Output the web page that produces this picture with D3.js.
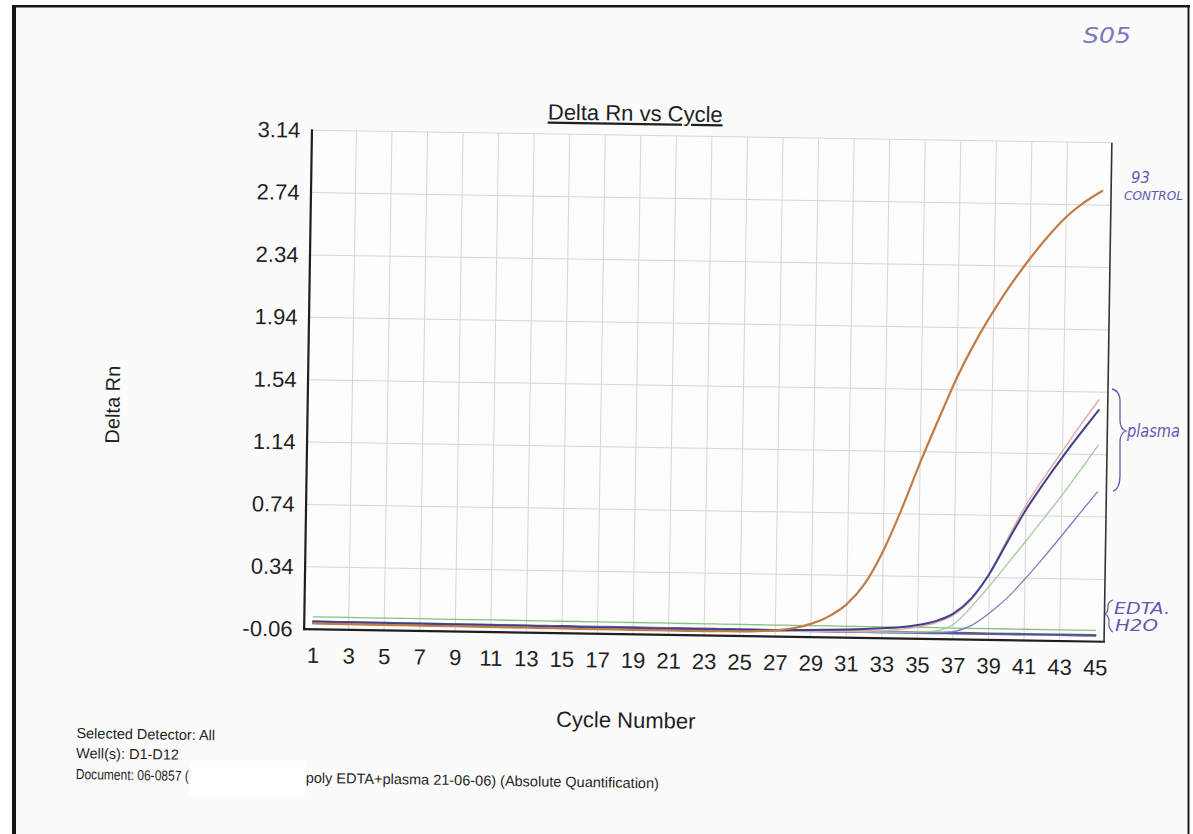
<!DOCTYPE html>
<html>
<head>
<meta charset="utf-8">
<script src="https://cdn.jsdelivr.net/npm/d3@7"></script>
<style>
  html, body { margin: 0; padding: 0; background: #ffffff; }
  svg { display: block; }
</style>
</head>
<body>
<svg id="chart" width="1193" height="834"></svg>
<script>
// ---- data -------------------------------------------------------------
const cycles = d3.range(1, 46);                       // cycle 1..45
const xTickValues = d3.range(1, 46, 2);               // 1,3,...,45
const xGridValues = d3.range(3, 44, 2);               // 3,5,...,43
const yTickValues = [-0.06, 0.34, 0.74, 1.14, 1.54, 1.94, 2.34, 2.74, 3.14];

// 93 control
const control = [
  -0.022,-0.023,-0.023,-0.024,-0.024,-0.025,-0.025,-0.026,-0.026,-0.027,
  -0.027,-0.028,-0.028,-0.029,-0.029,-0.030,-0.030,-0.030,-0.031,-0.031,
  -0.031,-0.032,-0.032,-0.031,-0.030,-0.027,-0.020,-0.005, 0.025, 0.075,
   0.155, 0.290, 0.500, 0.770, 1.070, 1.350, 1.620, 1.850, 2.050, 2.230,
   2.390, 2.535, 2.660, 2.755, 2.830];

// plasma wells
const plasmaPink = [
  -0.014,-0.014,-0.015,-0.015,-0.015,-0.016,-0.016,-0.016,-0.017,-0.017,
  -0.017,-0.018,-0.018,-0.018,-0.019,-0.019,-0.019,-0.020,-0.020,-0.020,
  -0.021,-0.021,-0.021,-0.022,-0.022,-0.022,-0.022,-0.022,-0.021,-0.020,
  -0.018,-0.015,-0.010,-0.002, 0.015, 0.045, 0.095, 0.195, 0.370, 0.595,
   0.810, 0.990, 1.160, 1.330, 1.490];
const plasmaBlue = [
  -0.010,-0.011,-0.011,-0.012,-0.012,-0.013,-0.013,-0.014,-0.014,-0.015,
  -0.015,-0.016,-0.016,-0.017,-0.017,-0.018,-0.018,-0.018,-0.019,-0.019,
  -0.020,-0.020,-0.020,-0.020,-0.020,-0.019,-0.018,-0.016,-0.014,-0.011,
  -0.007,-0.002, 0.004, 0.012, 0.028, 0.055, 0.105, 0.205, 0.365, 0.575,
   0.780, 0.955, 1.120, 1.275, 1.425];
const plasmaGreen = [
  -0.012,-0.012,-0.013,-0.013,-0.014,-0.014,-0.015,-0.015,-0.015,-0.016,
  -0.016,-0.016,-0.017,-0.017,-0.017,-0.018,-0.018,-0.018,-0.019,-0.019,
  -0.019,-0.020,-0.020,-0.020,-0.020,-0.021,-0.021,-0.021,-0.021,-0.021,
  -0.021,-0.020,-0.020,-0.019,-0.016,-0.008, 0.035, 0.150, 0.285, 0.430,
   0.575, 0.725, 0.875, 1.035, 1.200];
const plasmaPurple = [
  -0.016,-0.016,-0.017,-0.017,-0.017,-0.018,-0.018,-0.018,-0.019,-0.019,
  -0.019,-0.020,-0.020,-0.020,-0.021,-0.021,-0.021,-0.022,-0.022,-0.022,
  -0.022,-0.023,-0.023,-0.023,-0.023,-0.023,-0.024,-0.024,-0.024,-0.024,
  -0.024,-0.024,-0.023,-0.023,-0.022,-0.019,-0.010, 0.030, 0.110, 0.210,
   0.335, 0.470, 0.612, 0.758, 0.900];

// no-amplification wells
const edta = [
   0.020, 0.020, 0.020, 0.019, 0.019, 0.019, 0.019, 0.018, 0.018, 0.018,
   0.018, 0.018, 0.017, 0.017, 0.017, 0.017, 0.016, 0.016, 0.016, 0.016,
   0.015, 0.015, 0.015, 0.015, 0.015, 0.014, 0.014, 0.014, 0.014, 0.014,
   0.013, 0.013, 0.013, 0.013, 0.013, 0.013, 0.012, 0.012, 0.012, 0.012,
   0.012, 0.012, 0.012, 0.012, 0.012];
const water = [
  -0.012,-0.012,-0.013,-0.013,-0.013,-0.014,-0.014,-0.014,-0.015,-0.015,
  -0.015,-0.016,-0.016,-0.016,-0.016,-0.017,-0.017,-0.017,-0.017,-0.018,
  -0.018,-0.018,-0.018,-0.018,-0.019,-0.019,-0.019,-0.019,-0.019,-0.019,
  -0.020,-0.020,-0.020,-0.020,-0.020,-0.020,-0.020,-0.020,-0.020,-0.020,
  -0.020,-0.020,-0.020,-0.020,-0.020];

const series = [
  { name: "H2O",     values: water,        color: "#575b8c", width: 2.6 },
  { name: "EDTA",    values: edta,         color: "#86c07f", width: 1.3 },
  { name: "plasma4", values: plasmaPurple, color: "#7f7bc6", width: 1.3 },
  { name: "plasma3", values: plasmaGreen,  color: "#9fcc9a", width: 1.3 },
  { name: "plasma1", values: plasmaPink,   color: "#e7a7a2", width: 1.4 },
  { name: "plasma2", values: plasmaBlue,   color: "#3e3f8e", width: 2.0 },
  { name: "control", values: control,      color: "#c27b45", width: 2.2 }
];

// ---- layout -----------------------------------------------------------
const W = 1193, H = 834;
const plot = { left: 308, right: 1108, top: 136.5, bottom: 635.5 };
const FONT = "'Liberation Sans', Arial, Helvetica, sans-serif";
const INK = "#1f1f1f";

const svg = d3.select("#chart");

// sheet
svg.append("rect").attr("width", W).attr("height", H).attr("fill", "#ffffff");
svg.append("rect").attr("x", 14).attr("y", 6).attr("width", 1174).attr("height", H)
  .attr("fill", "#fcfbfb");
// scanner edges of the sheet
svg.append("rect").attr("x", 12).attr("y", 5).attr("width", 1178).attr("height", 2.5).attr("fill", "#151515");
svg.append("rect").attr("x", 12).attr("y", 5).attr("width", 4).attr("height", H).attr("fill", "#151515");
svg.append("rect").attr("x", 1187.5).attr("y", 5).attr("width", 2).attr("height", H).attr("fill", "#1c1c2a");

// printed page content sits slightly skewed on the sheet
const page = svg.append("g").attr("transform", "rotate(0.9, 708, 386)");

const x = d3.scaleLinear().domain([0.5, 45.5]).range([plot.left, plot.right]);
const y = d3.scaleLinear().domain([-0.06, 3.14]).range([plot.bottom, plot.top]);

// plot background
page.append("rect")
  .attr("x", plot.left).attr("y", plot.top)
  .attr("width", plot.right - plot.left).attr("height", plot.bottom - plot.top)
  .attr("fill", "#fdfdfd");

// grid
const grid = page.append("g").attr("stroke", "#d6d6d6").attr("stroke-width", 1);
grid.selectAll("line.h").data(yTickValues.slice(1)).join("line")
  .attr("x1", plot.left).attr("x2", plot.right)
  .attr("y1", d => y(d)).attr("y2", d => y(d));
grid.selectAll("line.v").data(xGridValues).join("line")
  .attr("x1", d => x(d)).attr("x2", d => x(d))
  .attr("y1", plot.top).attr("y2", plot.bottom);

// curves
const line = d3.line()
  .x((d, i) => x(cycles[i]))
  .y(d => y(d))
  .curve(d3.curveMonotoneX);

page.append("g").selectAll("path").data(series).join("path")
  .attr("d", s => line(s.values))
  .attr("fill", "none")
  .attr("stroke", s => s.color)
  .attr("stroke-width", s => s.width)
  .attr("stroke-linejoin", "round")
  .attr("stroke-linecap", "round");

// frame
page.append("line").attr("x1", plot.left).attr("x2", plot.left)
  .attr("y1", plot.top - 1).attr("y2", plot.bottom + 1)
  .attr("stroke", INK).attr("stroke-width", 2.2);
page.append("line").attr("x1", plot.left - 1).attr("x2", plot.right + 1)
  .attr("y1", plot.bottom).attr("y2", plot.bottom)
  .attr("stroke", INK).attr("stroke-width", 2.2);
page.append("line").attr("x1", plot.right).attr("x2", plot.right)
  .attr("y1", plot.top).attr("y2", plot.bottom)
  .attr("stroke", "#333").attr("stroke-width", 1.6);

// axes (labels only)
const yAxis = d3.axisLeft(y).tickValues(yTickValues).tickSize(0).tickPadding(11.5)
  .tickFormat(d => d.toFixed(2));
const yg = page.append("g").attr("transform", `translate(${plot.left},0)`).call(yAxis);
yg.select(".domain").remove();
yg.selectAll("text").attr("font-family", FONT).attr("font-size", 22).attr("fill", INK);

const xAxis = d3.axisBottom(x).tickValues(xTickValues).tickSize(0).tickPadding(18)
  .tickFormat(d => String(d));
const xg = page.append("g").attr("transform", `translate(0,${plot.bottom})`).call(xAxis);
xg.select(".domain").remove();
xg.selectAll("text").attr("font-family", FONT).attr("font-size", 22).attr("fill", INK);

// titles
page.append("text")
  .attr("x", 631).attr("y", 122)
  .attr("text-anchor", "middle")
  .attr("font-family", FONT).attr("font-size", 22).attr("fill", INK)
  .attr("text-decoration", "underline")
  .text("Delta Rn vs Cycle");

page.append("text")
  .attr("transform", "translate(120,414) rotate(-90)")
  .attr("text-anchor", "middle")
  .attr("font-family", FONT).attr("font-size", 20).attr("fill", INK)
  .text("Delta Rn");

page.append("text")
  .attr("x", 631).attr("y", 729)
  .attr("text-anchor", "middle")
  .attr("font-family", FONT).attr("font-size", 22).attr("fill", INK)
  .text("Cycle Number");

// run info
const info = page.append("g").attr("font-family", FONT).attr("font-size", 14.5).attr("fill", INK);
info.append("text").attr("x", 82).attr("y", 748).text("Selected Detector: All");
info.append("text").attr("x", 82).attr("y", 768).text("Well(s): D1-D12");
info.append("text").attr("x", 82).attr("y", 789)
  .attr("textLength", 113).attr("lengthAdjust", "spacingAndGlyphs")
  .text("Document: 06-0857 (");
info.append("text").attr("x", 312).attr("y", 789)
  .text("poly EDTA+plasma 21-06-06) (Absolute Quantification)");

// blanked-out part of the document name
svg.append("rect").attr("x", 189).attr("y", 762).attr("width", 116).attr("height", 34)
  .attr("fill", "#ffffff");

// pen notes on the sheet
const PEN = "#5f5ab0";
const HAND = "'DejaVu Sans', 'Noto Sans', sans-serif";
const notes = svg.append("g").attr("fill", PEN).attr("font-family", HAND)
  .attr("font-style", "italic").attr("font-weight", 300);
notes.append("text").attr("x", 1083).attr("y", 43).attr("font-size", 22)
  .attr("fill", "#7a77c2").attr("textLength", 48).attr("lengthAdjust", "spacingAndGlyphs")
  .text("S05");
notes.append("text").attr("x", 1131).attr("y", 183).attr("font-size", 15)
  .attr("textLength", 19).attr("lengthAdjust", "spacingAndGlyphs").text("93");
notes.append("text").attr("x", 1124).attr("y", 200).attr("font-size", 13)
  .attr("textLength", 59).attr("lengthAdjust", "spacingAndGlyphs").text("CONTROL");
notes.append("text").attr("x", 1127).attr("y", 437).attr("font-size", 18)
  .attr("textLength", 53).attr("lengthAdjust", "spacingAndGlyphs").text("plasma");
notes.append("text").attr("x", 1114).attr("y", 614).attr("font-size", 16)
  .attr("textLength", 56).attr("lengthAdjust", "spacingAndGlyphs").text("EDTA.");
notes.append("text").attr("x", 1115).attr("y", 631).attr("font-size", 16)
  .attr("textLength", 43).attr("lengthAdjust", "spacingAndGlyphs").text("H2O");
// braces
const pen = d3.path();
pen.moveTo(1112, 389);
pen.quadraticCurveTo(1121, 391, 1120, 405);
pen.lineTo(1120, 420);
pen.quadraticCurveTo(1120, 429, 1126, 431);
pen.quadraticCurveTo(1120, 433, 1120, 442);
pen.lineTo(1120, 475);
pen.quadraticCurveTo(1120, 489, 1113, 491);
svg.append("path").attr("d", pen.toString()).attr("fill", "none")
  .attr("stroke", PEN).attr("stroke-width", 1.3);
const pen2 = d3.path();
pen2.moveTo(1113, 600);
pen2.quadraticCurveTo(1107, 602, 1108, 608);
pen2.quadraticCurveTo(1108, 612, 1105, 614);
pen2.quadraticCurveTo(1109, 616, 1109, 621);
pen2.quadraticCurveTo(1108, 629, 1113, 632);
svg.append("path").attr("d", pen2.toString()).attr("fill", "none")
  .attr("stroke", PEN).attr("stroke-width", 1.2);
</script>
</body>
</html>
